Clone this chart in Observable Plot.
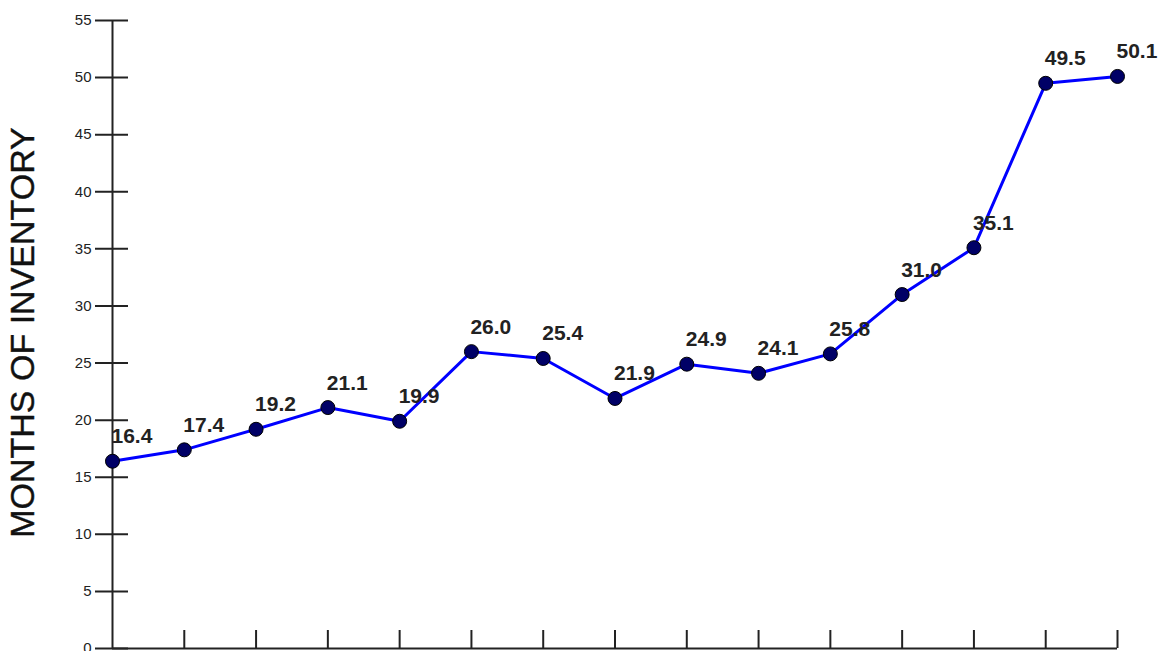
<!DOCTYPE html>
<html>
<head>
<meta charset="utf-8">
<script src="https://cdn.jsdelivr.net/npm/d3@7"></script>
<script src="https://cdn.jsdelivr.net/npm/@observablehq/plot@0.6"></script>
<style>
  html, body { margin: 0; padding: 0; background: #fff; }
  #chart svg { display: block; }
</style>
</head>
<body>
<div id="chart"></div>
<script>
const periods = [0, 1, 2, 3, 4, 5, 6, 7, 8, 9, 10, 11, 12, 13, 14];
const values = [16.4, 17.4, 19.2, 21.1, 19.9, 26.0, 25.4, 21.9, 24.9, 24.1, 25.8, 31.0, 35.1, 49.5, 50.1];
const yTicks = [0, 5, 10, 15, 20, 25, 30, 35, 40, 45, 50, 55];
const yTitle = "MONTHS OF INVENTORY";

const data = periods.map((p, i) => ({p, v: values[i]}));
const axisColor = "#222";

const chart = Plot.plot({
  width: 1163,
  height: 651,
  marginLeft: 112,
  marginRight: 46,
  marginTop: 20,
  marginBottom: 3,
  style: {fontFamily: "'Liberation Sans', Arial, sans-serif", background: "#fff", overflow: "visible"},
  x: {type: "linear", domain: [0, 14]},
  y: {domain: [0, 55]},
  marks: [
    Plot.axisY(yTicks, {anchor: "left", tickSize: 33, dx: 16, tickFormat: () => "", label: null, stroke: axisColor, strokeWidth: 2}),
    Plot.axisY(yTicks, {anchor: "left", tickSize: 0, tickPadding: 21, label: null, fontSize: 15, fill: "#222"}),
    Plot.axisX(periods.slice(1), {anchor: "bottom", tickSize: 18, dy: -18, tickFormat: () => "", label: null, stroke: axisColor, strokeWidth: 2}),
    Plot.ruleY([0], {stroke: axisColor, strokeWidth: 2}),
    Plot.ruleX([0], {stroke: axisColor, strokeWidth: 2}),
    Plot.text([yTitle], {frameAnchor: "left", textAnchor: "middle", rotate: -90, dx: -89, dy: -2, fontSize: 34, fill: "#111", stroke: "#111", strokeWidth: 0.4}),
    Plot.line(data, {x: "p", y: "v", stroke: "#0000ff", strokeWidth: 3}),
    Plot.dot(data, {x: "p", y: "v", r: 7, fill: "#000066", stroke: "#000", strokeWidth: 1}),
    Plot.text(data, {x: "p", y: "v", text: d => d.v.toFixed(1), textAnchor: "start", lineAnchor: "bottom", dy: -18, dx: -1, fontSize: 21, fontWeight: "bold", fill: "#222"})
  ]
});
document.getElementById("chart").appendChild(chart);
</script>
</body>
</html>
